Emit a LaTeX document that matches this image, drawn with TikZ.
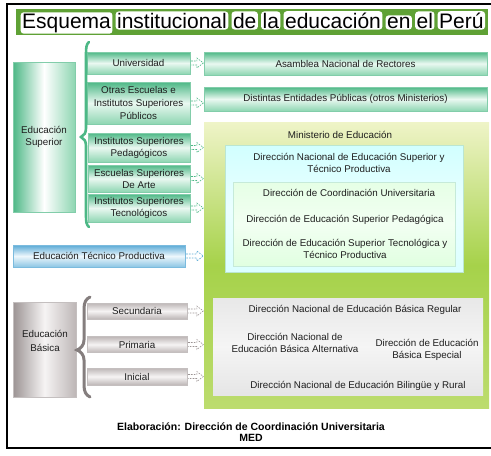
\documentclass[tikz,border=0pt]{standalone}
\usepackage{fontspec}
\setmainfont{Liberation Sans}
\usetikzlibrary{calc}

\definecolor{titlegreen}{HTML}{5FA135}
\definecolor{tealdark}{HTML}{4DB886}
\definecolor{tealmid}{HTML}{8ED6B2}
\definecolor{teallight}{HTML}{EAF8F1}
\definecolor{bluedark}{HTML}{5AAAD6}
\definecolor{bluemid}{HTML}{8CC6E4}
\definecolor{bluelight}{HTML}{EEF7FC}
\definecolor{graydark}{HTML}{9C9494}
\definecolor{graymid}{HTML}{BDB6B6}
\definecolor{graylight}{HTML}{F6F4F4}
\definecolor{limepale}{HTML}{EFF4C8}
\definecolor{limestrong}{HTML}{A6D24A}
\definecolor{limebottom}{HTML}{BCDC6E}
\definecolor{inktext}{HTML}{1E1E1E}

\newcommand\boxfont{\fontsize{9.8}{12}\selectfont}

\begin{document}
\begin{tikzpicture}[x=1pt,y=-1pt,
  box/.style={inner sep=0pt, align=center, font=\boxfont, text=inktext},
  label/.style={inner sep=0pt, align=center, font=\boxfont, text=inktext},
  greenpipe/.style={box, top color=tealdark, bottom color=tealmid, middle color=teallight, draw=tealdark!70, line width=0.3pt},
  greencol/.style={box, left color=tealdark, right color=tealmid, middle color=white, draw=tealdark!70, line width=0.3pt},
  bluepipe/.style={box, top color=bluedark, bottom color=bluemid, middle color=bluelight, draw=bluedark!80, line width=0.3pt},
  graypipe/.style={box, top color=graymid, bottom color=graymid, middle color=graylight, draw=graydark!60, line width=0.3pt},
  graycol/.style={box, left color=graydark, right color=graymid, middle color=graylight, draw=graydark!60, line width=0.3pt},
  tword/.style={anchor=base west, fill=white, rounded corners=3pt, inner xsep=1.5pt, inner ysep=1.3pt,
    text=black, font=\fontsize{21}{24}\selectfont},
  darr/.style={dash pattern=on 1.6pt off 1.2pt, line width=0.6pt,
    to path={let \p1=(\tikztostart.east), \p2=(\tikztotarget.west) in
      (\x1+1,\y1+2) -- (\x2-7,\y1+2) -- (\x2-7,\y1+5) -- (\x2-0.5,\y1)
      -- (\x2-7,\y1-5) -- (\x2-7,\y1-2) -- (\x1+1,\y1-2)}}
]
\useasboundingbox (0,0) rectangle (491,456);
\fill[white] (0,0) rectangle (491,456);

% outer frame
\draw[line width=2pt] (6.5,4.3) rectangle (495,447.7);

% title bar, each word on its own white patch
\fill[titlegreen] (16,9) rectangle (488,35);
\node[tword] (w1) at (20.5,28) {Esquema};
\node[tword] (w2) at ($(w1.base east)+(2.8,0)$) {institucional};
\node[tword] (w3) at ($(w2.base east)+(2.8,0)$) {de};
\node[tword] (w4) at ($(w3.base east)+(2.8,0)$) {la};
\node[tword] (w5) at ($(w4.base east)+(2.8,0)$) {educación};
\node[tword] (w6) at ($(w5.base east)+(2.8,0)$) {en};
\node[tword] (w7) at ($(w6.base east)+(2.8,0)$) {el};
\node[tword] (w8) at ($(w7.base east)+(2.8,0)$) {Perú};

% Ministerio de Educación block
\node[box, top color=limepale, bottom color=limebottom, middle color=limestrong,
      minimum width=285pt, minimum height=286pt] (med) at (346.5,265) {};
\node[label] (medtitle) at (340,135) {Ministerio de Educación};

\node[box, top color=cyan!18!white, bottom color=cyan!14!white, middle color=cyan!8!white,
      draw=tealmid!60, line width=0.3pt, minimum width=238pt, minimum height=127pt] (dnes) at (344,208.5) {};
\node[label] (dnestext) at (349,163) {Dirección Nacional de Educación Superior y\\Técnico Productiva};

\node[box, top color=green!10!white, bottom color=green!12!white, middle color=green!5!white,
      draw=tealmid!50, line width=0.3pt, minimum width=222pt, minimum height=84pt] (dsub) at (344,224) {};
\node[label] (dcu) at (349,193) {Dirección de Coordinación Universitaria};
\node[label] (desp) at (345,220) {Dirección de Educación Superior Pedagógica};
\node[label] (destp) at (345,249) {Dirección de Educación Superior Tecnológica y\\Técnico Productiva};

\node[box, top color=black!9, bottom color=black!10, middle color=black!4,
      minimum width=270pt, minimum height=97pt] (bas) at (348,346.5) {};
\node[label] (breg) at (355,310) {Dirección Nacional de Educación Básica Regular};
\node[label] (balt) at (295,343) {Dirección Nacional de\\Educación Básica Alternativa};
\node[label] (besp) at (427,350) {Dirección de Educación\\Básica Especial};
\node[label] (bbr) at (358,386) {Dirección Nacional de Educación Bilingüe y Rural};

% Educación Superior
\node[greencol, minimum width=62pt, minimum height=150pt] (es) at (44,137) {Educación\\Superior};
\node[greenpipe, minimum width=103pt, minimum height=22pt] (uni) at (138.5,63) {Universidad};
\node[greenpipe, minimum width=103pt, minimum height=42pt, font=\fontsize{9.8}{13}\selectfont] (otras) at (138.5,103)
  {Otras Escuelas e\\Institutos Superiores\\Públicos};
\node[greenpipe, minimum width=102pt, minimum height=29pt] (ped) at (139,147.5) {Institutos Superiores\\Pedagógicos};
\node[greenpipe, minimum width=102pt, minimum height=27pt] (arte) at (139,178.5) {Escuelas Superiores\\De Arte};
\node[greenpipe, minimum width=102pt, minimum height=28pt] (tec) at (139,208) {Institutos Superiores\\Tecnológicos};

\node[greenpipe, minimum width=283pt, minimum height=23pt] (anr) at (345.5,63.5) {Asamblea Nacional de Rectores};
\node[greenpipe, minimum width=283pt, minimum height=24pt] (dep) at (345.5,99) {Distintas Entidades Públicas (otros Ministerios)};

% green brace
\draw[tealdark, line width=2.6pt, line cap=round]
  (89,42) .. controls (86.5,44) and (86,47) .. (86,54) -- (86,128)
  .. controls (86,133) and (84,135.5) .. (81,137)
  .. controls (84,138.5) and (86,141) .. (86,146) -- (86,216)
  .. controls (86,222) and (86.5,225) .. (89,227);

% Educación Técnico Productiva
\node[bluepipe, minimum width=172pt, minimum height=22pt] (etp) at (99,256) {Educación Técnico Productiva};

% Educación Básica
\node[graycol, minimum width=63pt, minimum height=95pt] (eb) at (44.5,349.5) {};
\node[label, font=\fontsize{9.8}{14}\selectfont] (ebtext) at (45,341) {Educación\\Básica};
\node[graypipe, minimum width=100pt, minimum height=16pt] (sec) at (137,311) {Secundaria};
\node[graypipe, minimum width=100pt, minimum height=16pt] (pri) at (137,344.5) {Primaria};
\node[graypipe, minimum width=100pt, minimum height=17pt] (ini) at (137,376.5) {Inicial};

% gray brace
\draw[graydark!85!black, line width=3pt, line cap=round]
  (90,297) .. controls (86,299) and (84,302) .. (84,309) -- (84,340)
  .. controls (84,345) and (81,348.5) .. (77,350)
  .. controls (81,351.5) and (84,355) .. (84,360) -- (84,385)
  .. controls (84,392) and (86,395) .. (90,397);

% dashed connectors
\draw[darr, draw=tealdark] (uni) to (anr);
\draw[darr, draw=tealdark] (otras) to (dep);
\draw[darr, draw=tealdark] (ped) to (med);
\draw[darr, draw=tealdark] (arte) to (med);
\draw[darr, draw=tealdark] (tec) to (med);
\draw[darr, draw=bluedark] (etp) to (med);
\draw[darr, draw=graydark] (sec) to (med);
\draw[darr, draw=graydark] (pri) to (med);
\draw[darr, draw=graydark] (ini) to (med);

% credits
\node[inner sep=0pt, align=center, font=\bfseries\fontsize{10.5}{11}\selectfont] (credit) at (251,432)
  {Elaboración: Dirección de Coordinación Universitaria\\MED};
\end{tikzpicture}
\end{document}
